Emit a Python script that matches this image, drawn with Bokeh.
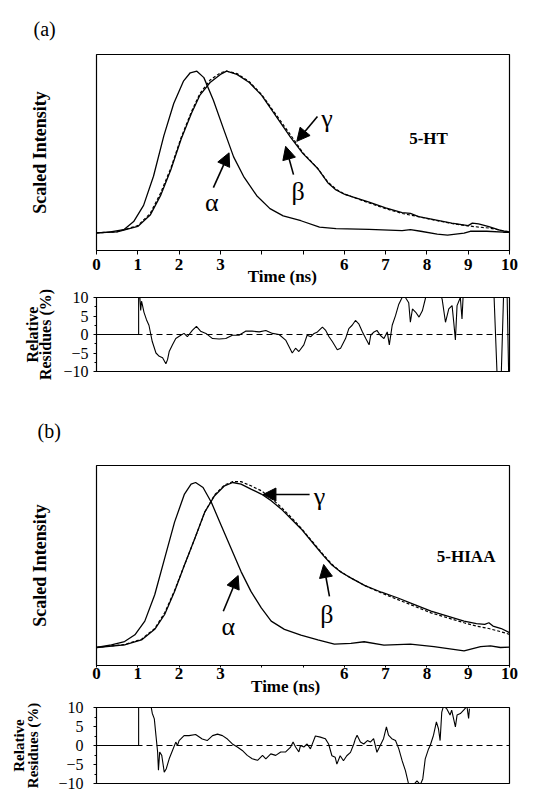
import math
from bokeh.plotting import figure
from bokeh.models import Range1d, FixedTicker, Label, Arrow, NormalHead, Span, LinearAxis
from bokeh.layouts import column
from bokeh.embed import file_html
from bokeh.resources import INLINE

SERIF = "Liberation Serif"

# ---------------- data: panel (a) 5-HT ----------------
alpha_a_t = [0.0, 0.3, 0.66, 0.9, 1.14, 1.38, 1.63, 1.87, 2.11, 2.27, 2.43, 2.6, 2.83, 3.08, 3.32, 3.56, 3.88,
             4.2, 4.52, 4.95, 5.4, 5.8, 6.6, 7.4, 7.6, 7.85, 8.25, 8.5, 8.9, 9.05, 9.45, 9.85, 10.0]
alpha_a_y = [0.0, 0.005, 0.02, 0.07, 0.17, 0.35, 0.60, 0.80, 0.94, 0.99, 1.0, 0.96, 0.82, 0.64, 0.47, 0.35, 0.23,
             0.15, 0.105, 0.075, 0.035, 0.026, 0.022, 0.014, 0.02, 0.01, -0.008, -0.014, -0.002, 0.01, 0.01, 0.004, 0.004]

beta_a_t = [0.0, 0.5, 1.0, 1.3, 1.55, 1.8, 2.05, 2.3, 2.5, 2.75, 3.0, 3.15, 3.4, 3.7, 4.0, 4.35, 4.7, 5.0, 5.35,
            5.6, 5.8, 6.0, 6.2, 6.6, 7.0, 7.4, 7.6, 7.8, 8.2, 8.6, 9.0, 9.1, 9.25, 9.5, 9.8, 10.0]
beta_a_y = [0.0, 0.006, 0.04, 0.11, 0.23, 0.39, 0.58, 0.74, 0.85, 0.93, 0.98, 1.0, 0.98, 0.93, 0.85, 0.72, 0.59, 0.49, 0.40,
            0.31, 0.265, 0.24, 0.222, 0.19, 0.155, 0.125, 0.12, 0.10, 0.08, 0.06, 0.045, 0.06, 0.055, 0.038, 0.014, 0.005]

gamma_a_t = [0.0, 0.5, 1.0, 1.3, 1.55, 1.8, 2.05, 2.3, 2.5, 2.75, 3.0, 3.15, 3.4, 3.7, 4.0, 4.35, 4.7, 5.0, 5.35,
             5.6, 5.8, 6.0, 6.2, 6.6, 7.0, 7.4, 7.8, 8.2, 8.6, 9.0, 9.25, 9.5, 9.8, 10.0]
gamma_a_y = [0.0, 0.007, 0.045, 0.12, 0.245, 0.40, 0.59, 0.75, 0.86, 0.945, 0.99, 1.0, 0.985, 0.935, 0.855, 0.73, 0.605, 0.495, 0.40,
             0.315, 0.27, 0.24, 0.222, 0.185, 0.15, 0.12, 0.10, 0.078, 0.058, 0.043, 0.036, 0.03, 0.016, 0.006]

res_a_t = [0.0, 1.02, 1.02, 1.05, 1.07, 1.09, 1.11, 1.15, 1.21, 1.27,
           1.35, 1.44, 1.52, 1.60, 1.68, 1.72, 1.76, 1.84, 1.92, 2.04,
           2.12, 2.20, 2.32, 2.42, 2.52, 2.65, 2.81, 2.97, 3.13, 3.29,
           3.45, 3.61, 3.77, 3.94, 4.10, 4.26, 4.42, 4.58, 4.74, 4.82,
           4.90, 5.02, 5.10, 5.19, 5.27, 5.35, 5.47, 5.55, 5.63, 5.71,
           5.83, 5.91, 6.03, 6.11, 6.19, 6.27, 6.35, 6.44, 6.52, 6.60,
           6.64, 6.72, 6.79, 6.87, 6.96, 7.04, 7.09, 7.16, 7.24, 7.32,
           7.40, 7.48, 7.56, 7.60, 7.65, 7.73, 7.81, 7.89, 7.97, 8.10,
           8.30, 8.37, 8.45, 8.53, 8.61, 8.65, 8.69, 8.73, 8.81, 8.85,
           8.88, 9.30, 9.62, 9.70, 9.80, 9.86, 9.94, 9.98]
res_a_y = [0.0, 0.0, 11.0, 10.0, 6.5, 9.0, 8.1, 6.0, 4.0, 2.5,
           -1.9, -5.0, -5.9, -6.3, -7.9, -6.8, -4.6, -2.8, -1.1, -0.2,
           0.3, -0.6, 1.1, 2.2, 0.9, 0.3, -1.1, -1.2, -1.1, -0.2,
           -0.2, 0.9, 0.9, 0.7, 1.1, 0.3, 0.0, -1.5, -5.0, -3.7,
           -4.6, -2.8, -0.2, -0.6, 0.3, 0.7, 2.0, 1.1, -0.6, -1.9,
           -4.1, -3.7, -1.1, 1.6, 2.5, 3.8, 2.9, 0.7, -1.1, -2.8,
           -0.2, 0.7, 1.1, -0.2, -1.1, 0.7, -2.8, 2.5, 5.1, 8.2,
           10.0, 10.0, 8.6, 3.3, 6.9, 6.0, 4.7, 6.4, 10.0, 12.0,
           12.0, 9.5, 3.3, 6.9, 7.8, 3.3, -1.5, 7.8, 10.0, 4.2,
           11.0, 13.0, 12.0, -11.0, -11.0, 12.0, 12.0, -11.0]

# ---------------- data: panel (b) 5-HIAA ----------------
alpha_b_t = [0.0, 0.36, 0.68, 0.93, 1.17, 1.41, 1.65, 1.89, 2.13, 2.29, 2.4, 2.58, 2.78, 3.02, 3.26, 3.5, 3.74,
             3.99, 4.23, 4.55, 4.95, 5.36, 5.76, 6.16, 6.48, 6.96, 7.6, 8.17, 8.9, 9.3, 9.54, 9.78, 10.0]
alpha_b_y = [0.0, 0.016, 0.036, 0.077, 0.16, 0.32, 0.54, 0.76, 0.93, 0.99, 1.0, 0.97, 0.88, 0.74, 0.60, 0.46, 0.34,
             0.24, 0.16, 0.11, 0.075, 0.047, 0.02, 0.025, 0.035, 0.015, 0.02, 0.005, -0.02, 0.005, 0.01, 0.0, 0.002]

beta_b_t = [0.0, 0.68, 1.09, 1.41, 1.65, 1.89, 2.13, 2.38, 2.62, 2.86, 3.1, 3.3, 3.5, 3.74, 3.99, 4.23, 4.47, 4.71,
            4.95, 5.3, 5.5, 5.7, 5.9, 6.1, 6.5, 6.9, 7.3, 7.7, 8.1, 8.5, 8.9, 9.2, 9.4, 9.5, 9.6, 9.8, 10.0]
beta_b_y = [0.0, 0.016, 0.046, 0.11, 0.20, 0.34, 0.50, 0.66, 0.82, 0.92, 0.98, 1.0, 0.99, 0.96, 0.93, 0.89, 0.84, 0.78,
            0.72, 0.615, 0.555, 0.50, 0.46, 0.43, 0.375, 0.335, 0.30, 0.26, 0.22, 0.19, 0.16, 0.145, 0.14, 0.15, 0.13, 0.115, 0.09]

gamma_b_t = [0.0, 0.68, 1.09, 1.41, 1.65, 1.89, 2.13, 2.38, 2.62, 2.86, 3.1, 3.3, 3.5, 3.74, 3.99, 4.23, 4.47, 4.71,
             4.95, 5.3, 5.5, 5.7, 5.9, 6.1, 6.5, 6.9, 7.3, 7.7, 8.1, 8.5, 8.9, 9.2, 9.5, 9.8, 10.0]
gamma_b_y = [0.0, 0.018, 0.05, 0.115, 0.21, 0.345, 0.50, 0.66, 0.82, 0.925, 0.985, 1.005, 1.005, 0.98, 0.95, 0.905, 0.85, 0.79,
             0.725, 0.62, 0.56, 0.505, 0.462, 0.43, 0.375, 0.33, 0.29, 0.25, 0.21, 0.18, 0.15, 0.13, 0.115, 0.095, 0.08]

res_b_t = [0.0, 1.02, 1.02, 1.20, 1.31, 1.35, 1.40, 1.44, 1.48, 1.50,
           1.53, 1.58, 1.64, 1.69, 1.76, 1.84, 1.92, 1.96, 2.00, 2.12,
           2.24, 2.40, 2.56, 2.68, 2.81, 2.93, 3.05, 3.17, 3.29, 3.41,
           3.53, 3.65, 3.77, 3.90, 4.02, 4.10, 4.22, 4.34, 4.46, 4.58,
           4.70, 4.76, 4.82, 4.90, 4.94, 5.02, 5.10, 5.18, 5.30, 5.42,
           5.54, 5.62, 5.70, 5.78, 5.82, 5.90, 5.98, 6.06, 6.15, 6.23,
           6.27, 6.31, 6.39, 6.47, 6.56, 6.63, 6.71, 6.79, 6.87, 6.95,
           7.02, 7.07, 7.15, 7.24, 7.32, 7.40, 7.48, 7.56, 7.68, 7.76,
           7.84, 7.90, 7.96, 8.04, 8.08, 8.16, 8.23, 8.28, 8.32, 8.36,
           8.40, 8.48, 8.56, 8.60, 8.69, 8.73, 8.81, 8.89, 8.97, 9.01,
           9.03]
res_b_y = [0.0, 0.0, 12.0, 14.0, 11.0, 8.5, 7.0, 2.6, -1.7, -6.5,
           -1.7, -2.6, -7.0, -6.1, -3.5, -1.3, 0.9, 0.0, 1.3, 2.6,
           2.6, 2.9, 1.7, 1.3, 2.6, 3.0, 2.6, 1.7, 0.4, -0.4,
           -1.3, -2.6, -3.5, -3.9, -2.6, -3.5, -2.2, -2.6, -1.7, -1.7,
           -0.4, 0.9, -0.4, -1.7, 0.0, -0.4, 0.4, -0.9, 2.5, 2.2,
           1.8, 0.4, -2.7, -3.1, -4.9, -2.7, -4.0, -2.7, -1.8, 0.4,
           1.8, 2.7, 0.9, 0.4, 1.3, 0.9, 1.8, -1.8, 0.0, 1.8,
           4.9, 2.7, 1.8, 1.3, -0.9, -4.0, -6.6, -10.3, -10.3, -9.3,
           -10.3, -8.8, -3.5, -0.9, 0.0, 2.7, 6.2, 4.4, 1.3, 8.8,
           10.3, 9.7, 8.0, 9.3, 4.9, 8.0, 8.4, 9.3, 10.3, 7.1,
           9.7]

time_ticks = [0, 1, 2, 3, 4, 5, 6, 7, 8, 9, 10]
time_tick_labels = ["0", "1", "2", "3", "", "", "6", "7", "8", "9", "10"]
res_ticks = [-10, -5, 0, 5, 10]
res_minor = [-7.5, -2.5, 2.5, 7.5]

LEFT = 96
RIGHT = 25


def txt(text, x, y, size, bold=False):
    return Label(x=x, y=y, text=text,
                 text_font=SERIF, text_font_size=size,
                 text_font_style="bold" if bold else "normal", text_color="black",
                 text_align="center", text_baseline="middle")


def arrow(x0, y0, x1, y1):
    return Arrow(end=NormalHead(size=13, fill_color="black", line_color="black", line_width=1),
                 x_start=x0, y_start=y0, x_end=x1, y_end=y1, line_width=1.6, line_color="black")


def blank_axis(label, standoff, size):
    return LinearAxis(ticker=FixedTicker(ticks=[]), axis_line_color=None,
                      major_tick_line_color=None, minor_tick_line_color=None,
                      major_tick_out=0, major_tick_in=0, minor_tick_out=0, minor_tick_in=0,
                      major_label_standoff=0,
                      axis_label=label, axis_label_standoff=standoff,
                      axis_label_text_font=SERIF, axis_label_text_font_size=size,
                      axis_label_text_font_style="bold", axis_label_text_color="black")


def intensity_panel(height, top, bottom, tick_out, standoff,
                    tag, tag_offset, tag_standoff, ylabel_standoff, time_pos, time_standoff):
    p = figure(width=534, height=height, output_backend="svg", toolbar_location=None,
               x_range=Range1d(0, 10), y_range=Range1d(-0.109, 1.103),
               min_border_left=LEFT, min_border_right=RIGHT,
               min_border_top=top, min_border_bottom=bottom,
               background_fill_color="white", border_fill_color="white",
               x_axis_location=None, y_axis_location=None)
    p.grid.visible = False
    p.outline_line_color = "black"
    p.outline_line_width = 1.2
    p.title.text = tag
    p.title.align = "left"
    p.title.offset = tag_offset
    p.title.standoff = tag_standoff
    p.title.text_font = SERIF
    p.title.text_font_size = "20px"
    p.title.text_font_style = "normal"
    p.title.text_color = "black"

    ax = LinearAxis(ticker=FixedTicker(ticks=time_ticks),
                    major_label_overrides={t: s for t, s in zip(time_ticks, time_tick_labels)},
                    axis_line_color="black", major_tick_in=0, major_tick_out=tick_out,
                    minor_tick_line_color=None, major_label_standoff=standoff,
                    major_label_text_font=SERIF, major_label_text_font_size="17px",
                    major_label_text_font_style="bold", major_label_text_color="black")
    p.add_layout(ax, "below")
    tax = LinearAxis(ticker=FixedTicker(ticks=[time_pos]),
                     major_label_overrides={time_pos: "Time (ns)"},
                     axis_line_color=None, major_tick_line_color=None, minor_tick_line_color=None,
                     major_tick_out=0, major_tick_in=0, major_label_standoff=time_standoff,
                     major_label_text_font=SERIF, major_label_text_font_size="17px",
                     major_label_text_font_style="bold", major_label_text_color="black")
    p.add_layout(tax, "below")
    p.add_layout(blank_axis("Scaled Intensity", ylabel_standoff, "18px"), "left")
    return p


def residue_panel(height, top, bottom, tick_standoff, s1, s2, size):
    p = figure(width=534, height=height, output_backend="svg", toolbar_location=None,
               x_range=Range1d(0, 10), y_range=Range1d(-10, 10),
               min_border_left=LEFT, min_border_right=RIGHT,
               min_border_top=top, min_border_bottom=bottom,
               background_fill_color="white", border_fill_color="white",
               x_axis_location=None, y_axis_location=None)
    p.grid.visible = False
    p.outline_line_color = "black"
    p.outline_line_width = 1.2
    ay = LinearAxis(ticker=FixedTicker(ticks=res_ticks, minor_ticks=res_minor),
                    major_tick_in=0, major_tick_out=3, minor_tick_in=0, minor_tick_out=2,
                    axis_line_color="black",
                    major_label_standoff=tick_standoff, major_label_text_font=SERIF,
                    major_label_text_font_size="16px", major_label_text_color="black",
                    axis_label="Residues (%)", axis_label_standoff=s1,
                    axis_label_text_font=SERIF, axis_label_text_font_size=size,
                    axis_label_text_font_style="bold", axis_label_text_color="black")
    p.add_layout(ay, "left")
    p.add_layout(blank_axis("Relative", s2, size), "left")
    p.add_layout(Span(location=0, dimension="width", line_color="black",
                      line_dash="6 4", line_width=1))
    return p


# ---------- (a) intensity ----------
pa = intensity_panel(288, 53, 35, 4, 4, "(a)", -63, 30, 47, 4.50, -6)
pa.line(alpha_a_t, alpha_a_y, line_color="black", line_width=1.3)
pa.line(gamma_a_t, gamma_a_y, line_color="black", line_width=1.2, line_dash="3 2")
pa.line(beta_a_t, beta_a_y, line_color="black", line_width=1.3)
pa.add_layout(txt("5-HT", 8.04, 0.586, "17px", bold=True))
pa.add_layout(arrow(2.83, 0.28, 3.21, 0.495))
pa.add_layout(arrow(4.77, 0.36, 4.58, 0.535))
pa.add_layout(arrow(5.35, 0.72, 4.85, 0.566))
pa.add_layout(txt("α", 2.79, 0.19, "26px"))
pa.add_layout(txt("β", 4.88, 0.256, "26px"))
pa.add_layout(txt("γ", 5.58, 0.71, "26px"))

# ---------- (a) residues ----------
ra = residue_panel(97, 9, 14, 5, 6, -6, "16px")
ra.line(res_a_t, res_a_y, line_color="black", line_width=1.1)

# ---------- (b) intensity ----------
pb = intensity_panel(313, 80, 33, 2, 0, "(b)", -59, 48, 47, 4.58, -5)
pb.line(alpha_b_t, alpha_b_y, line_color="black", line_width=1.3)
pb.line(gamma_b_t, gamma_b_y, line_color="black", line_width=1.2, line_dash="3 2")
pb.line(beta_b_t, beta_b_y, line_color="black", line_width=1.3)
pb.add_layout(txt("5-HIAA", 8.95, 0.553, "17px", bold=True))
pb.add_layout(arrow(5.16, 0.927, 4.03, 0.927))
pb.add_layout(arrow(3.07, 0.22, 3.43, 0.436))
pb.add_layout(arrow(5.64, 0.31, 5.5, 0.503))
pb.add_layout(txt("γ", 5.40, 0.917, "26px"))
pb.add_layout(txt("α", 3.19, 0.13, "26px"))
pb.add_layout(txt("β", 5.58, 0.20, "26px"))

# ---------- (b) residues ----------
rb = residue_panel(95, 9, 10, 10, 14, -4, "15px")
rb.line(res_b_t, res_b_y, line_color="black", line_width=1.1)

layout = column(pa, ra, pb, rb, spacing=0)
open("out.html", "w").write(file_html(layout, INLINE, title="5-HT / 5-HIAA fluorescence decays"))
